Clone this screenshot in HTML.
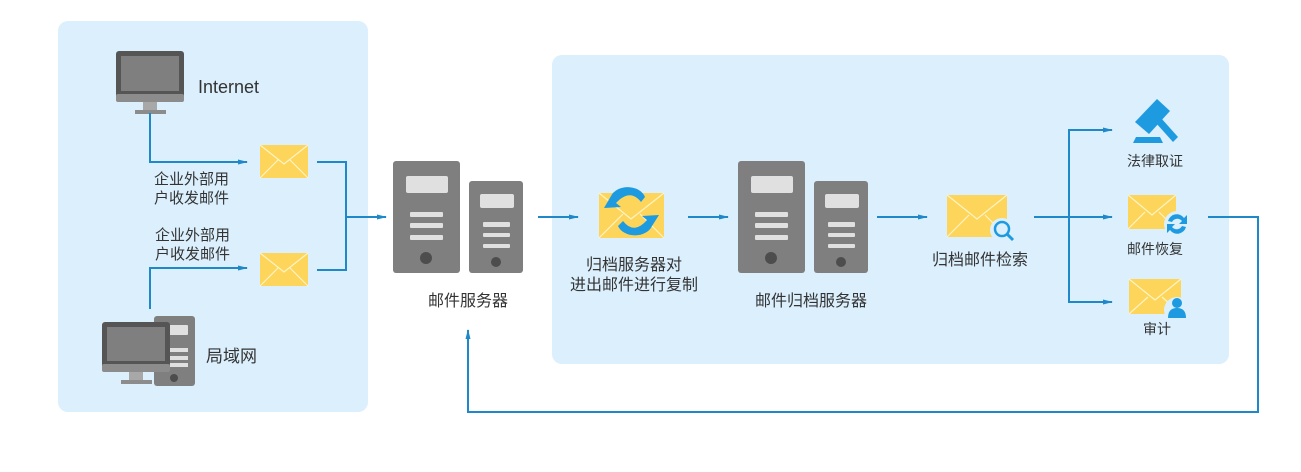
<!DOCTYPE html>
<html><head><meta charset="utf-8"><style>
body{margin:0;background:#fff;width:1301px;height:472px;overflow:hidden}
svg{display:block}
text{font-family:"Liberation Sans","Noto Sans CJK SC",sans-serif;fill:#333}
</style></head><body>
<svg width="1301" height="472" viewBox="0 0 1301 472" xmlns="http://www.w3.org/2000/svg">
<defs>
<marker id="ar" markerWidth="10" markerHeight="8" refX="9" refY="4" orient="auto" markerUnits="userSpaceOnUse">
<path d="M0,1.5 L10,4 L0,6.5 Z" fill="#1e88c8"/></marker>
<g id="srv">
<rect x="0" y="0" width="67" height="112" rx="3" fill="#7f7f7f"/>
<rect x="13" y="15" width="42" height="17" rx="2" fill="#e0e0e0"/>
<rect x="17" y="51" width="33" height="5" rx="1" fill="#e0e0e0"/>
<rect x="17" y="62" width="33" height="5" rx="1" fill="#e0e0e0"/>
<rect x="17" y="74" width="33" height="5" rx="1" fill="#e0e0e0"/>
<circle cx="33" cy="97" r="6" fill="#4d4d4d"/>
<rect x="76" y="20" width="54" height="92" rx="3" fill="#7f7f7f"/>
<rect x="87" y="33" width="34" height="14" rx="2" fill="#e0e0e0"/>
<rect x="90" y="61" width="27" height="5" rx="1" fill="#e0e0e0"/>
<rect x="90" y="72" width="27" height="4" rx="1" fill="#e0e0e0"/>
<rect x="90" y="83" width="27" height="4" rx="1" fill="#e0e0e0"/>
<circle cx="103" cy="101" r="5" fill="#4d4d4d"/>
</g>
<g id="env">
<rect x="0" y="0" width="48" height="33" fill="#fdd55a"/>
<path d="M0,0 L24,19 L48,0 M0,33 L18,15 M48,33 L30,15" stroke="#fff4c8" stroke-width="1.2" fill="none"/>
</g>
</defs>
<rect x="58" y="21" width="310" height="391" rx="10" fill="#dbeffd"/>
<rect x="552" y="55" width="677" height="309" rx="10" fill="#dbeffd"/>

<!-- internet monitor -->
<rect x="116" y="51" width="68" height="50" rx="3" fill="#555"/>
<rect x="121" y="56" width="58" height="35" fill="#7f7f7f"/>
<rect x="116" y="94" width="68" height="8" rx="2" fill="#8c8c8c"/>
<rect x="143" y="102" width="14" height="8" fill="#a8a8a8"/>
<rect x="135" y="110" width="31" height="4" fill="#8c8c8c"/>
<text x="198" y="93" font-size="18">Internet</text>

<!-- LAN -->
<rect x="154" y="316" width="41" height="70" rx="3" fill="#7f7f7f"/>
<rect x="168" y="325" width="20" height="10" rx="1" fill="#e0e0e0"/>
<rect x="168" y="348" width="20" height="4" fill="#e0e0e0"/>
<rect x="168" y="356" width="20" height="4" fill="#e0e0e0"/>
<rect x="168" y="363" width="20" height="4" fill="#e0e0e0"/>
<circle cx="174" cy="378" r="4" fill="#4d4d4d"/>
<rect x="102" y="322" width="68" height="50" rx="3" fill="#555"/>
<rect x="107" y="327" width="58" height="34" fill="#7f7f7f"/>
<rect x="102" y="364" width="68" height="8" rx="2" fill="#8c8c8c"/>
<rect x="129" y="372" width="14" height="8" fill="#a8a8a8"/>
<rect x="121" y="380" width="31" height="4" fill="#8c8c8c"/>
<text x="206" y="362" font-size="17">局域网</text>

<g stroke="#1e88c8" stroke-width="2" fill="none">
<path d="M150,113 V162 H247" marker-end="url(#ar)"/>
<path d="M150,309 V268 H247" marker-end="url(#ar)"/>
<path d="M317,162 H346 V270 H317 M346,217 H386" marker-end="url(#ar)"/>
<path d="M538,217 H578" marker-end="url(#ar)"/>
<path d="M688,217 H728" marker-end="url(#ar)"/>
<path d="M877,217 H927" marker-end="url(#ar)"/>
<path d="M1034,217 H1112" marker-end="url(#ar)"/>
<path d="M1112,130 H1069 V302 H1112" marker-end="url(#ar)"/>
<path d="M1069,130 H1112" marker-end="url(#ar)"/>
<path d="M1208,217 H1258 V412 H468 V330" marker-end="url(#ar)"/>
</g>
<use href="#env" x="260" y="145"/>
<use href="#env" x="260" y="253"/>
<text font-size="15"><tspan x="154" y="184">企业外部用</tspan><tspan x="154" y="203">户收发邮件</tspan></text>
<text font-size="15"><tspan x="155" y="240">企业外部用</tspan><tspan x="155" y="259">户收发邮件</tspan></text>

<use href="#srv" x="393" y="161"/>
<text x="468" y="306" font-size="16" text-anchor="middle">邮件服务器</text>

<!-- sync envelope -->
<g transform="translate(599,193)"><rect width="65" height="45" fill="#fdd55a"/>
<path d="M0,0 L32,26 L65,0 M0,45 L24,21 M65,45 L41,21" stroke="#fff4c8" stroke-width="1.2" fill="none"/></g>
<path d="M611,196 A18,14 0 0 1 645,197 L641,202 Q630,188 616,203 L621,207 L604,208 Z" fill="#1e9be0"/>
<path d="M652,226 A18,14 0 0 1 618,226 L623,221 Q634,235 647,220 L642,216 L659,215 Z" fill="#1e9be0"/>
<text font-size="16" text-anchor="middle"><tspan x="634" y="270">归档服务器对</tspan><tspan x="634" y="290">进出邮件进行复制</tspan></text>

<use href="#srv" x="738" y="161"/>
<text x="811" y="306" font-size="16" text-anchor="middle">邮件归档服务器</text>

<!-- search envelope -->
<g transform="translate(947,195)"><rect width="60" height="42" fill="#fdd55a"/>
<path d="M0,0 L30,24 L60,0 M0,42 L22,20 M60,42 L38,20" stroke="#fff4c8" stroke-width="1.2" fill="none"/></g>
<circle cx="1002" cy="230" r="12" fill="#dbeffd"/>
<circle cx="1002" cy="229" r="7" fill="none" stroke="#1e9be0" stroke-width="2.5"/>
<path d="M1007,234 L1013,240" stroke="#1e9be0" stroke-width="3"/>
<text x="980" y="265" font-size="16" text-anchor="middle">归档邮件检索</text>

<!-- gavel -->
<g fill="#1e9be0">
<path d="M1133,143 L1163,143 L1160,137 L1136,137 Z"/>
<path d="M1135,122 L1157,99 L1170,111 L1149,134 Z"/>
<path d="M1156,123 L1161,118 L1178,137 L1173,142 Z"/>
</g>
<text x="1155" y="166" font-size="14" text-anchor="middle">法律取证</text>

<!-- restore -->
<g transform="translate(1128,195)"><rect width="48" height="34" fill="#fdd55a"/>
<path d="M0,0 L24,20 L48,0 M0,34 L17,17 M48,34 L31,17" stroke="#fff4c8" stroke-width="1.2" fill="none"/></g>
<circle cx="1177" cy="224" r="13" fill="#dbeffd"/>
<path d="M1168,221 A9,9 0 0 1 1184,218 L1187,215 L1187,224 L1179,224 L1182,221 A6,6 0 0 0 1172,222 Z" fill="#1e9be0"/>
<path d="M1186,227 A9,9 0 0 1 1170,230 L1167,233 L1167,224 L1175,224 L1172,227 A6,6 0 0 0 1182,226 Z" fill="#1e9be0"/>
<text x="1155" y="254" font-size="14" text-anchor="middle">邮件恢复</text>

<!-- audit -->
<g transform="translate(1129,279)"><rect width="52" height="35" fill="#fdd55a"/>
<path d="M0,0 L26,21 L52,0 M0,35 L19,18 M52,35 L33,18" stroke="#fff4c8" stroke-width="1.2" fill="none"/></g>
<circle cx="1177" cy="310" r="13" fill="#dbeffd"/>
<circle cx="1177" cy="303" r="5" fill="#1e9be0"/>
<path d="M1168,318 Q1168,308 1177,308 Q1186,308 1186,318 Z" fill="#1e9be0"/>
<text x="1157" y="334" font-size="14" text-anchor="middle">审计</text>
</svg>
</body></html>
